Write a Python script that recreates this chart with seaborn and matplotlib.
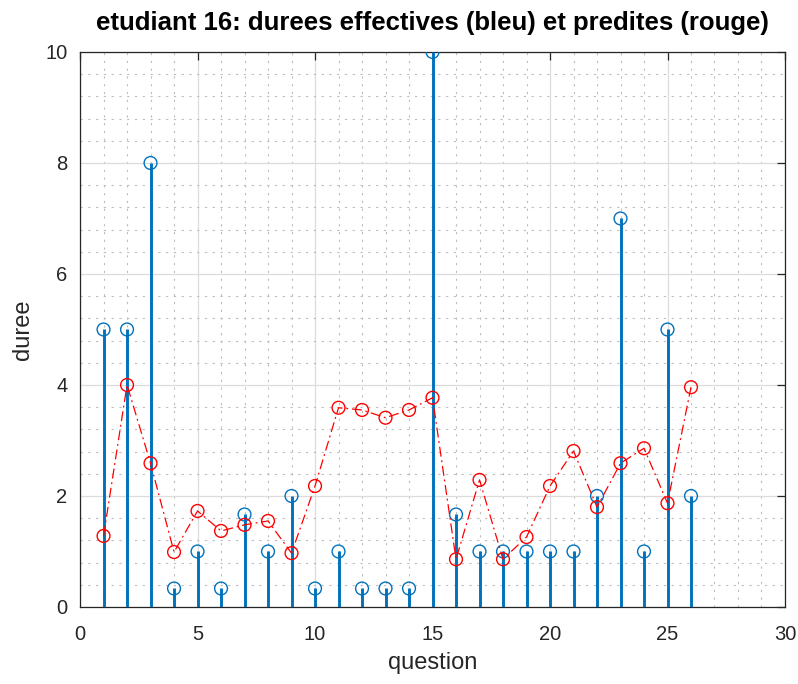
import numpy as np
import pandas as pd
import matplotlib
matplotlib.use("Agg")
import matplotlib.pyplot as plt
from matplotlib.ticker import MultipleLocator
import seaborn as sns

# question numbers
questions = list(range(1, 27))

# observed durations (blue)
duree_effective = [5, 5, 8, 1/3, 1, 1/3, 5/3, 1, 2, 1/3, 1, 1/3, 1/3, 1/3, 10,
                   5/3, 1, 1, 1, 1, 1, 2, 7, 1, 5, 2]

# predicted durations (red)
duree_predite = [1.28, 4.0, 2.59, 0.99, 1.73, 1.37, 1.48, 1.55, 0.97, 2.18,
                 3.59, 3.55, 3.41, 3.55, 3.77, 0.86, 2.29, 0.86, 1.26, 2.18,
                 2.81, 1.80, 2.59, 2.86, 1.87, 3.96]

data = pd.DataFrame({
    "question": questions,
    "effective": duree_effective,
    "predite": duree_predite,
})

sns.set_style("white")
plt.rcParams["font.family"] = ["Liberation Sans", "DejaVu Sans"]

blue = "#0072BD"
red = "#FF0000"
dark = "#262626"

fig = plt.figure(figsize=(7.98, 6.84), dpi=100)
ax = fig.add_axes([0.1003, 0.1126, 0.8834, 0.8114])

# grid like matlab
ax.set_axisbelow(True)
ax.xaxis.set_major_locator(MultipleLocator(5))
ax.xaxis.set_minor_locator(MultipleLocator(1))
ax.yaxis.set_major_locator(MultipleLocator(2))
ax.yaxis.set_minor_locator(MultipleLocator(0.4))
ax.grid(which="major", color="#dcdcdc", linewidth=0.9, linestyle="-")
ax.grid(which="minor", color="#bdbdbd", linewidth=0.8, linestyle=(0, (2, 5)))

# stems (blue)
ax.vlines(data["question"], 0, data["effective"], color=blue, linewidth=2.1, zorder=3)
sns.scatterplot(data=data, x="question", y="effective", ax=ax, s=85,
                facecolors="none", edgecolor=blue, linewidth=1.0, zorder=4)

# predictions (red dash-dot)
sns.lineplot(data=data, x="question", y="predite", ax=ax, color=red,
             linewidth=0.9, linestyle=(0, (8, 3, 1.5, 3)), zorder=5)
sns.scatterplot(data=data, x="question", y="predite", ax=ax, s=85,
                facecolors="none", edgecolor=red, linewidth=1.0, zorder=6)

ax.set_xlim(0, 30)
ax.set_ylim(0, 10)

for side in ax.spines.values():
    side.set_color(dark)
    side.set_linewidth(0.9)

ax.tick_params(which="major", direction="in", length=6, top=True, right=True,
               labelsize=14.5, colors=dark, width=0.9)
ax.tick_params(axis="x", which="major", pad=13)
ax.tick_params(axis="y", which="major", pad=9)
ax.tick_params(which="minor", length=0)

ax.set_xlabel("question", fontsize=17, color=dark, labelpad=6)
ax.set_ylabel("duree", fontsize=17, color=dark, labelpad=8)
ax.set_title("etudiant 16: durees effectives (bleu) et predites (rouge)",
             fontsize=18.5, fontweight="bold", color="black", pad=16)

fig.savefig("out.png", dpi=100)
